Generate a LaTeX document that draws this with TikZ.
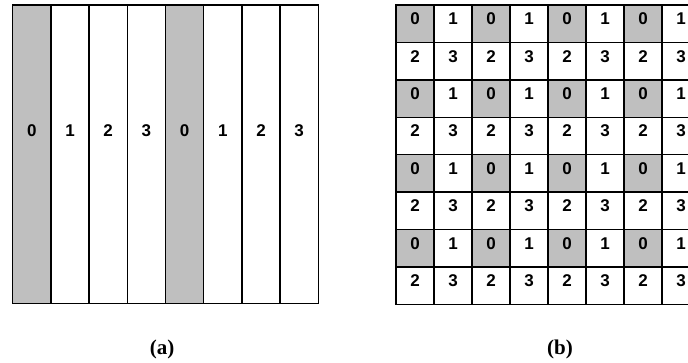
\documentclass[tikz,border=0pt]{standalone}
\usepackage{fontspec}
\setmainfont{Liberation Serif}
\newfontfamily\digitfont{Liberation Sans}
\begin{document}
\begin{tikzpicture}[x=1pt,y=-1pt,
  cellbase/.style={draw=black, line width=1.4pt, inner sep=0pt, outer sep=0pt,
    text height=12pt,
    font=\digitfont\bfseries\fontsize{17}{17}\selectfont},
  stripe/.style={cellbase, text depth=48pt, minimum width=38.2pt, minimum height=298.3pt},
  sq/.style={cellbase, text depth=10pt, minimum width=38pt, minimum height=37.4pt},
  shade/.style={fill=gray!50},
  plain/.style={fill=white},
  caption/.style={font=\bfseries\fontsize{21}{21}\selectfont}]
\useasboundingbox (0,0) rectangle (688,362);
\clip (0,0) rectangle (688,362);
% (a)
\foreach \i in {0,...,7} {
  \pgfmathtruncatemacro{\lab}{mod(\i,4)}
  \ifnum\lab=0 \def\sty{shade}\else\def\sty{plain}\fi
  \node[stripe,\sty] (a\i) at ({12.7+38.2*(\i+0.5)},154.15) {\lab};
}
% (b)
\foreach \r in {0,...,7} {
  \foreach \c in {0,...,7} {
    \pgfmathtruncatemacro{\rr}{mod(\r,2)}
    \pgfmathtruncatemacro{\cc}{mod(\c,2)}
    \pgfmathtruncatemacro{\lab}{2*\rr+\cc}
    \ifnum\lab=0 \def\sty{shade}\else\def\sty{plain}\fi
    \node[sq,\sty] (b\r\c) at ({396+38*(\c+0.5)},{5+37.4*(\r+0.5)}) {\lab};
  }
}
\node[caption] (capa) at (162,349) {(a)};
\node[caption] (capb) at (560,349) {(b)};
\end{tikzpicture}
\end{document}
